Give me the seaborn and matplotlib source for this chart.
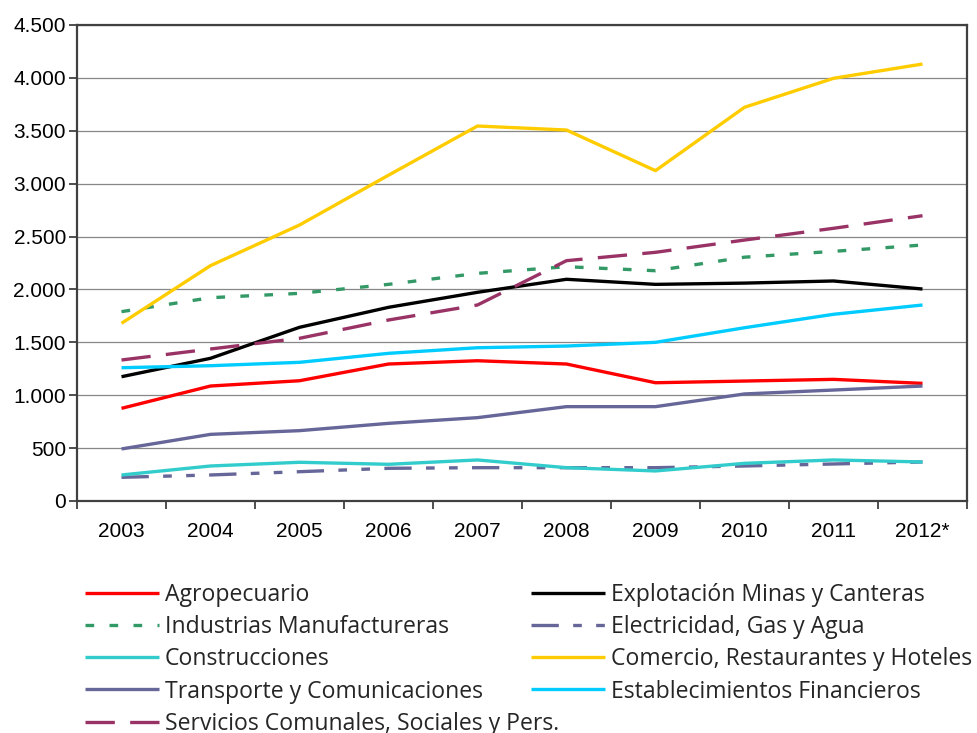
import matplotlib
matplotlib.use("Agg")
import matplotlib.pyplot as plt
from matplotlib.ticker import FuncFormatter, FixedLocator, NullFormatter
import seaborn as sns
import pandas as pd

years = ["2003", "2004", "2005", "2006", "2007", "2008", "2009", "2010", "2011", "2012*"]

agropecuario = [876, 1087, 1137, 1295, 1326, 1295, 1118, 1134, 1150, 1112]
explotacion = [1175, 1349, 1642, 1831, 1973, 2096, 2048, 2060, 2080, 2004]
industrias = [1790, 1922, 1963, 2048, 2152, 2215, 2177, 2305, 2360, 2420]
electricidad = [224, 246, 277, 309, 315, 315, 315, 331, 350, 369]
construcciones = [246, 331, 366, 347, 388, 315, 284, 356, 388, 369]
comercio = [1680, 2225, 2609, 3080, 3545, 3507, 3123, 3722, 3996, 4131]
transporte = [492, 630, 665, 734, 788, 892, 892, 1012, 1049, 1087]
financieros = [1260, 1279, 1311, 1396, 1449, 1465, 1500, 1638, 1765, 1853]
servicios = [1333, 1437, 1538, 1711, 1853, 2272, 2351, 2467, 2578, 2697]

sectors = [
    "Agropecuario",
    "Explotación Minas y Canteras",
    "Industrias Manufactureras",
    "Electricidad, Gas y Agua",
    "Construcciones",
    "Comercio, Restaurantes y Hoteles",
    "Transporte y Comunicaciones",
    "Establecimientos Financieros",
    "Servicios Comunales, Sociales y Pers.",
]
values = [agropecuario, explotacion, industrias, electricidad, construcciones,
          comercio, transporte, financieros, servicios]

colors = ["#FF0000", "#000000", "#339966", "#666699", "#33CCCC",
          "#FFCC00", "#666699", "#00CCFF", "#993366"]
dash_styles = ["", "", (2.6, 4.6), (8.2, 4.3, 2.6, 4.3, 2.6, 4.3), "",
               "", "", "", (8.8, 4.6)]

df = pd.DataFrame(
    [(s, y, v) for s, vals in zip(sectors, values) for y, v in zip(years, vals)],
    columns=["Sector", "Año", "Valor"],
)
df["pos"] = df["Año"].map({y: i for i, y in enumerate(years)})

sns.set_theme(style="white")
plt.rcParams["font.family"] = ["Liberation Sans", "DejaVu Sans"]

fig = plt.figure(figsize=(9.78, 7.33), dpi=100)
ax = fig.add_axes([77 / 978, 1 - 501 / 733, 890 / 978, 476 / 733])

sns.lineplot(
    data=df, x="pos", y="Valor", hue="Sector", style="Sector",
    hue_order=sectors, style_order=sectors,
    palette=dict(zip(sectors, colors)),
    dashes=dict(zip(sectors, dash_styles)),
    linewidth=2.4, legend=False, ax=ax,
)
for ln in ax.lines:
    ln.set_dash_capstyle("butt")
    ln.set_solid_capstyle("butt")

# axes frame, grid and ticks
ax.set_xlim(-0.5, len(years) - 0.5)
ax.set_ylim(0, 4500)
ax.set_yticks(range(0, 4501, 500))
ax.yaxis.set_major_formatter(FuncFormatter(lambda v, p: f"{int(v):,}".replace(",", ".")))
ax.yaxis.grid(True, color="#878787", linewidth=0.9)
ax.xaxis.grid(False)
ax.set_axisbelow(True)

ax.xaxis.set_major_locator(FixedLocator([i - 0.5 for i in range(len(years) + 1)]))
ax.xaxis.set_major_formatter(NullFormatter())
ax.xaxis.set_minor_locator(FixedLocator(list(range(len(years)))))
ax.set_xticklabels(years, minor=True)
ax.tick_params(axis="x", which="major", direction="out", length=6, width=1.3,
               color="#404040", bottom=True)
ax.tick_params(axis="x", which="minor", length=0, pad=15, labelsize=15,
               labelcolor="black")
ax.tick_params(axis="y", direction="out", length=6, width=1.3, color="#404040",
               left=True, labelsize=15, pad=2, labelcolor="black")
for sp in ax.spines.values():
    sp.set_visible(True)
    sp.set_color("#404040")
    sp.set_linewidth(1.6)
ax.set_xlabel("")
ax.set_ylabel("")

# legend in two columns, built from the drawn lines
handles = ax.lines[: len(sectors)]
left_idx = [0, 2, 4, 6, 8]
right_idx = [1, 3, 5, 7]
legend_font = {"family": ["Open Sans", "DejaVu Sans"], "size": 16.6}
common = dict(frameon=False, prop=legend_font, handlelength=3.2,
              handletextpad=0.26, labelspacing=0.355, borderpad=0,
              borderaxespad=0, loc="upper left")
leg1 = fig.legend([handles[i] for i in left_idx], [sectors[i] for i in left_idx],
                  bbox_to_anchor=(85 / 978, 1 - 583 / 733), **common)
leg2 = fig.legend([handles[i] for i in right_idx], [sectors[i] for i in right_idx],
                  bbox_to_anchor=(531 / 978, 1 - 583 / 733), **common)

fig.savefig("out.png", dpi=100)
